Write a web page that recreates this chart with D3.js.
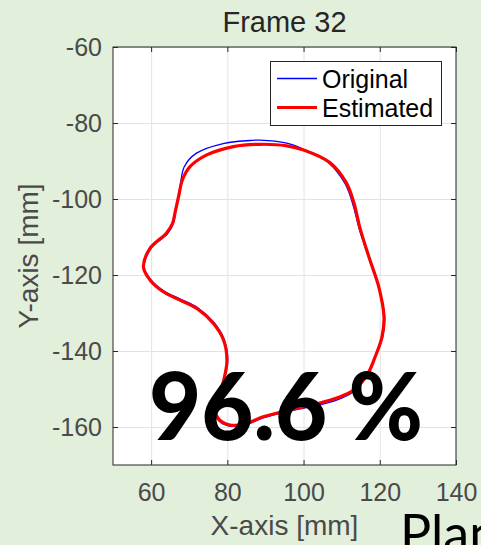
<!DOCTYPE html>
<html>
<head>
<meta charset="utf-8">
<script src="https://cdn.jsdelivr.net/npm/d3@7"></script>
<style>
  html, body { margin: 0; padding: 0; background: #e2efda; }
  svg { display: block; }
</style>
</head>
<body>
<div id="chart"></div>
<script>
// tick values
var xTicks = [60, 80, 100, 120, 140];
var yTicks = [-160, -140, -120, -100, -80, -60];

// contour, [x mm, y mm], clockwise from the leftmost point
var estimatedPts = [
  [58.0, -118.0], [59.7, -113.0], [64.0, -109.0], [65.6, -106.5], [66.4, -103.0],
  [67.2, -99.4], [68.2, -95.0], [70.2, -91.5], [74.6, -88.4], [81.6, -86.2],
  [88.6, -85.6], [95.6, -86.0], [100.0, -87.1], [106.9, -90.4], [111.2, -95.7],
  [113.2, -101.0], [114.9, -108.0], [117.4, -116.0], [119.7, -123.0], [121.1, -131.0],
  [120.6, -136.2], [118.8, -141.5], [116.7, -146.3], [113.1, -150.3], [108.7, -152.4],
  [103.5, -153.9], [96.4, -155.5], [89.4, -157.3], [85.1, -159.0], [80.8, -159.5],
  [77.8, -158.0], [76.9, -155.8], [77.6, -152.5], [79.1, -147.5], [79.9, -142.5],
  [79.0, -137.1], [76.3, -132.7], [72.0, -128.8], [67.6, -126.6], [63.2, -124.4],
  [59.7, -121.3]
];
var originalPts = [
  [58.2, -118.0], [60.0, -113.0], [64.3, -109.2], [65.8, -106.6], [66.5, -103.0],
  [67.2, -99.4], [67.7, -96.0], [68.7, -91.5], [71.8, -88.0], [78.9, -85.4],
  [86.0, -84.6], [88.6, -84.5], [95.6, -85.3], [100.0, -86.9], [106.6, -90.5],
  [110.9, -96.0], [112.9, -101.3], [114.7, -108.2], [117.3, -116.0], [119.7, -123.0],
  [121.3, -131.0], [120.8, -136.2], [118.8, -141.7], [116.6, -146.6], [113.0, -150.8],
  [108.5, -153.0], [103.3, -154.4], [96.4, -155.8], [89.4, -157.6], [85.0, -159.3],
  [80.8, -159.8], [77.7, -158.3], [76.7, -155.8], [77.5, -152.5], [79.2, -147.5],
  [80.1, -142.5], [79.2, -137.0], [76.5, -132.5], [72.2, -128.6], [67.8, -126.4],
  [63.4, -124.2], [59.9, -121.2]
];

var legendNames = ["Original", "Estimated"];
var lineColors = ["#0000ff", "#ff0000"];

var W = 481, H = 545;
var plotL = 113, plotR = 456, plotT = 47, plotB = 465;

var svg = d3.select("#chart").append("svg")
  .attr("width", W).attr("height", H);

svg.append("rect").attr("width", W).attr("height", H).attr("fill", "#e2efda");

var x = d3.scaleLinear().domain([50, 140]).range([plotL, plotR]);
var y = d3.scaleLinear().domain([-170, -60]).range([plotB, plotT]);

// plot area
svg.append("rect")
  .attr("x", plotL).attr("y", plotT)
  .attr("width", plotR - plotL).attr("height", plotB - plotT)
  .attr("fill", "#ffffff");

// grid
svg.append("g")
  .attr("transform", "translate(0," + plotB + ")")
  .call(d3.axisBottom(x).tickValues(xTicks).tickSize(-(plotB - plotT)).tickFormat(""))
  .call(g => g.select(".domain").remove())
  .selectAll("line").attr("stroke", "#e3e3e3");
svg.append("g")
  .attr("transform", "translate(" + plotL + ",0)")
  .call(d3.axisLeft(y).tickValues(yTicks).tickSize(-(plotR - plotL)).tickFormat(""))
  .call(g => g.select(".domain").remove())
  .selectAll("line").attr("stroke", "#e3e3e3");

// curves
var line = d3.line()
  .x(d => x(d[0]))
  .y(d => y(d[1]))
  .curve(d3.curveCatmullRomClosed.alpha(0.5));

svg.append("path")
  .datum(originalPts)
  .attr("d", line)
  .attr("fill", "none")
  .attr("stroke", lineColors[0])
  .attr("stroke-width", 1.3);

svg.append("path")
  .datum(estimatedPts)
  .attr("d", line)
  .attr("fill", "none")
  .attr("stroke", lineColors[1])
  .attr("stroke-width", 3.2);

// axes with inward ticks
var axisCol = "#262626";
var tickFont = "Liberation Sans, Arial, Helvetica, sans-serif";
var plain = d => String(d);

var xAxis = svg.append("g")
  .attr("transform", "translate(0," + plotB + ")")
  .call(d3.axisBottom(x).tickValues(xTicks).tickFormat(plain).tickSize(-5).tickPadding(18));
var yAxis = svg.append("g")
  .attr("transform", "translate(" + plotL + ",0)")
  .call(d3.axisLeft(y).tickValues(yTicks).tickFormat(plain).tickSize(-5).tickPadding(11));
var xTop = svg.append("g")
  .attr("transform", "translate(0," + plotT + ")")
  .call(d3.axisTop(x).tickValues(xTicks).tickSize(-5).tickFormat(""));
var yRight = svg.append("g")
  .attr("transform", "translate(" + plotR + ",0)")
  .call(d3.axisRight(y).tickValues(yTicks).tickSize(-5).tickFormat(""));

[xAxis, yAxis, xTop, yRight].forEach(function(g) {
  g.select(".domain").remove();
  g.selectAll("line").attr("stroke", axisCol);
  g.selectAll("text")
    .attr("fill", "#4a4a4a")
    .style("font-family", tickFont)
    .style("font-size", "25px");
});

svg.append("rect")
  .attr("x", plotL).attr("y", plotT)
  .attr("width", plotR - plotL).attr("height", plotB - plotT)
  .attr("fill", "none")
  .attr("stroke", axisCol)
  .attr("stroke-width", 1);

// title and labels
svg.append("text")
  .attr("x", (plotL + plotR) / 2).attr("y", 32)
  .attr("text-anchor", "middle")
  .attr("fill", "#262626")
  .style("font-family", tickFont)
  .style("font-size", "29px")
  .text("Frame 32");

svg.append("text")
  .attr("x", (plotL + plotR) / 2).attr("y", 535)
  .attr("text-anchor", "middle")
  .attr("fill", "#4a4a4a")
  .style("font-family", tickFont)
  .style("font-size", "28px")
  .text("X-axis [mm]");

svg.append("text")
  .attr("transform", "translate(38," + ((plotT + plotB) / 2) + ") rotate(-90)")
  .attr("text-anchor", "middle")
  .attr("fill", "#4a4a4a")
  .style("font-family", tickFont)
  .style("font-size", "28px")
  .text("Y-axis [mm]");

// legend
var lg = svg.append("g");
lg.append("rect")
  .attr("x", 270.5).attr("y", 61.5)
  .attr("width", 171).attr("height", 64)
  .attr("fill", "#ffffff")
  .attr("stroke", axisCol)
  .attr("stroke-width", 1);
legendNames.forEach(function(name, i) {
  var ly = 78.5 + i * 29;
  lg.append("line")
    .attr("x1", 277).attr("x2", 317)
    .attr("y1", ly).attr("y2", ly)
    .attr("stroke", lineColors[i])
    .attr("stroke-width", i === 0 ? 1.3 : 3.2);
  lg.append("text")
    .attr("x", 322).attr("y", ly + 9)
    .attr("fill", "#000000")
    .style("font-family", tickFont)
    .style("font-size", "25px")
    .text(name);
});

// overlay text
svg.append("text")
  .attr("x", 149).attr("y", 440)
  .attr("textLength", 274)
  .attr("lengthAdjust", "spacingAndGlyphs")
  .attr("fill", "#000000")
  .style("font-family", "Lato, 'Open Sans', sans-serif")
  .style("font-weight", "900")
  .style("font-size", "93px")
  .text("96.6 %");

svg.append("text")
  .attr("x", 400).attr("y", 552)
  .attr("fill", "#000000")
  .style("font-family", "Lato, 'Open Sans', sans-serif")
  .style("font-size", "52px")
  .text("Plan");
</script>
</body>
</html>
